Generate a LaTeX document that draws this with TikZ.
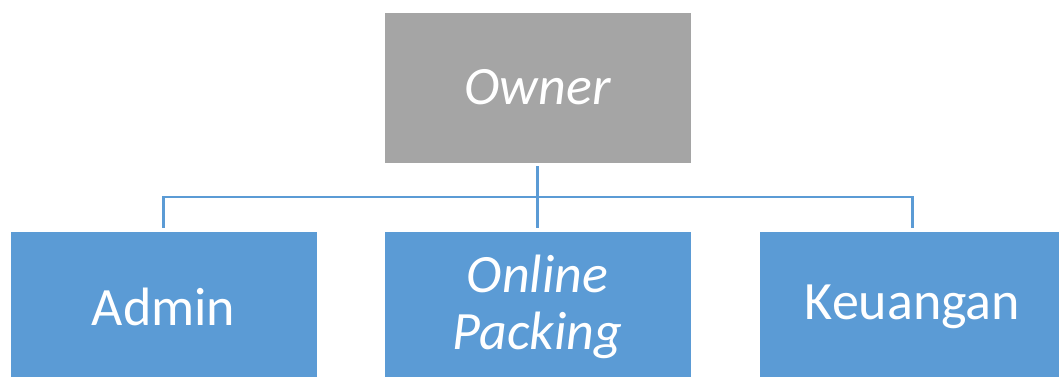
\documentclass[tikz,border=0pt]{standalone}
\usepackage{fontspec}
\setmainfont{Carlito}
\usetikzlibrary{calc}
\definecolor{boxgray}{HTML}{A5A5A5}
\definecolor{boxblue}{HTML}{5B9BD5}
\tikzset{
  orgbox/.style={rectangle, draw=white, line width=0.6pt, minimum width=307pt, minimum height=151pt, inner sep=0pt, align=center, text=white, font=\fontsize{54}{57}\selectfont},
  conn/.style={draw=boxblue, line width=2.2pt, shorten <=3pt, shorten >=3pt}
}
\begin{document}
\begin{tikzpicture}[x=1pt,y=-1pt]
\useasboundingbox (0,0) rectangle (1059,376);
\node[orgbox, fill=boxgray] (owner) at (537.5,87.5) {\itshape Owner};
\node[orgbox, fill=boxblue] (admin) at (163.5,306.5) {Admin};
\node[orgbox, fill=boxblue] (packing) at (537.5,306.5) {\itshape Online\\\itshape Packing};
\node[orgbox, fill=boxblue] (keu) at (912.5,306.5) {Keuangan};
\draw[conn] (owner.south) -- (packing.north);
\draw[conn] (admin.north) |- ($(owner.south)!0.5!(packing.north)$) -| (keu.north);
\end{tikzpicture}
\end{document}
